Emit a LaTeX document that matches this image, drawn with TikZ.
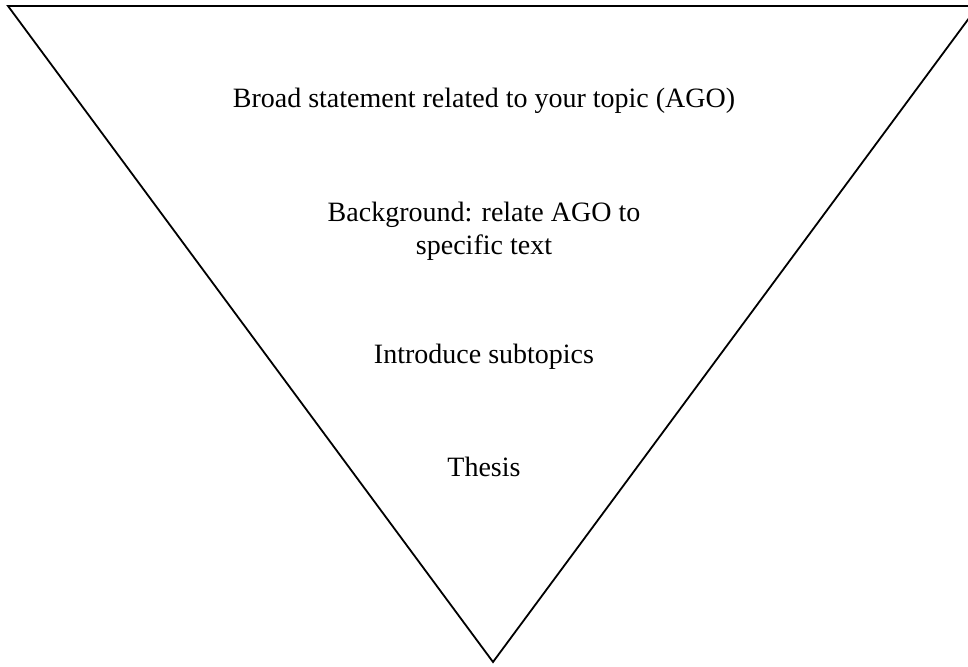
\documentclass[tikz,border=0pt]{standalone}
\usepackage{fontspec}
\setmainfont{Liberation Serif}
\begin{document}
\begin{tikzpicture}[x=1pt, y=-1pt, line width=1.8pt]
\tikzset{label/.style={font=\fontsize{28}{33}\selectfont, align=center, anchor=base, inner sep=0pt}}
\useasboundingbox (0,0) rectangle (968,666);
\clip (0,0) rectangle (968,666);
% Funil invertido
\coordinate (tl) at (8,6);
\coordinate (tr) at (978,6);
\coordinate (bot) at (493,662);
\draw[line join=miter] (tl) -- (tr) -- (bot) -- cycle;
\node[label] (broad) at (484,108) {Broad statement related to your topic (AGO)};
\node[label] (back) at (484,254) {Background: relate AGO to\\specific text};
\node[label] (sub) at (484,363) {Introduce subtopics};
\node[label] (thesis) at (484,476) {Thesis};
\end{tikzpicture}
\end{document}
